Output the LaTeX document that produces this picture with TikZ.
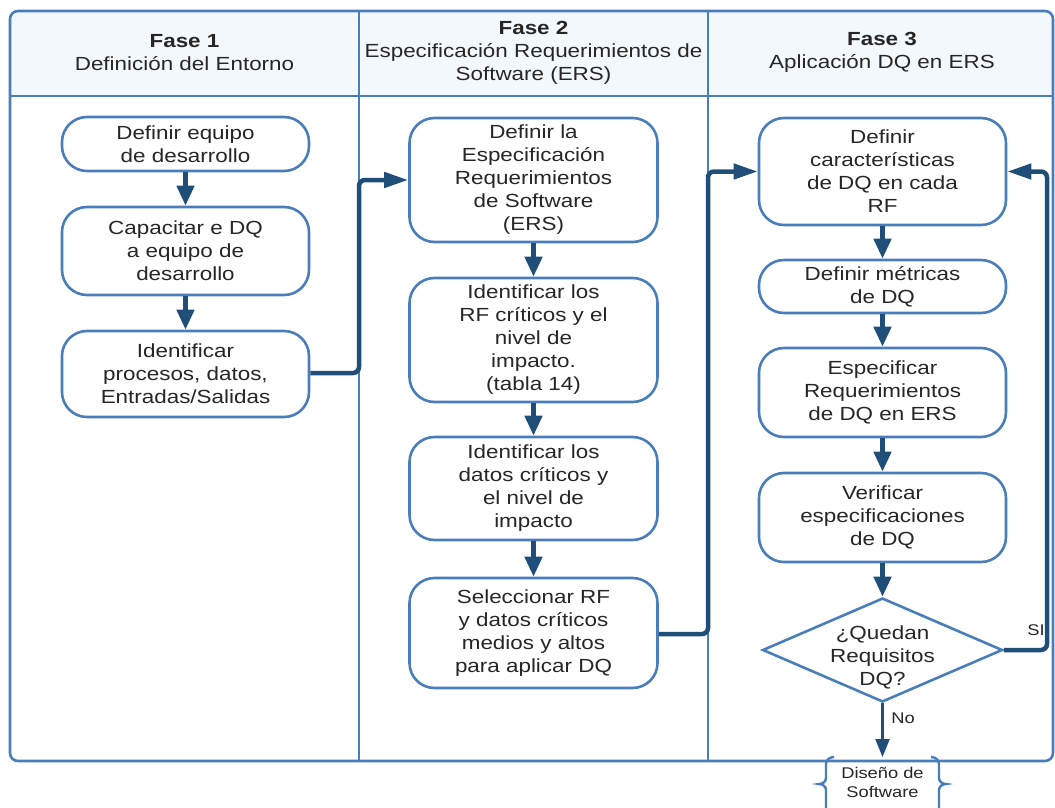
\documentclass[tikz,border=0pt]{standalone}
\usepackage{fontspec}
\setmainfont{Liberation Sans}[FakeStretch=1.18]
\usetikzlibrary{arrows.meta,shapes.geometric}

\definecolor{frameblue}{HTML}{4A7EBB}
\definecolor{navy}{HTML}{1F4E79}
\definecolor{headfill}{HTML}{F3F8FD}
\definecolor{ink}{HTML}{262626}

\tikzset{
  frame/.style={draw=frameblue, line width=2.6pt},
  stepbox/.style={draw=frameblue, line width=2.6pt, fill=white, rounded corners=25pt,
    minimum width=247pt, align=center, text=ink, inner sep=0pt,
    font=\fontsize{19}{23}\selectfont},
  headtxt/.style={align=center, text=ink, font=\fontsize{19}{23}\selectfont},
  txt/.style={align=center, text=ink, font=\fontsize{19}{23}\selectfont, inner sep=0pt},
  smalltxt/.style={align=center, text=ink, font=\fontsize{15.5}{19}\selectfont, inner sep=0pt},
  vconn/.style={draw=navy, line width=4.5pt, -{Triangle[length=20pt,width=17pt]}},
  thinconn/.style={draw=navy, line width=2.2pt, -{Triangle[length=18pt,width=14pt]}},
  hconn/.style={draw=navy, line width=4.5pt, rounded corners=6pt, -{Triangle[length=24pt,width=15pt]}},
}

\begin{document}
\begin{tikzpicture}[x=1pt,y=-1pt]
\useasboundingbox (0,0) rectangle (1055,808);
\clip (0,0) rectangle (1055,808);

% swimlane frame and header band
\begin{scope}
  \clip[rounded corners=8pt] (10,11) rectangle (1053,761);
  \fill[headfill] (10,11) rectangle (1053,96);
\end{scope}
\draw[frame, rounded corners=8pt] (10,11) rectangle (1053,761);
\draw[frame] (10,96) -- (1053,96);
\coordinate (d1t) at (359,11);
\coordinate (d1b) at (359,761);
\coordinate (d2t) at (708,11);
\coordinate (d2b) at (708,761);
\draw[frame] (d1t) -- (d1b);
\draw[frame] (d2t) -- (d2b);

% lane headers
\node[headtxt] (h1) at (184.5,52.5) {\textbf{Fase 1}\\Definición del Entorno};
\node[headtxt] (h2) at (533.5,53) {\textbf{Fase 2}\\Especificación Requerimientos de\\Software (ERS)};
\node[headtxt] (h3) at (882,52.5) {\textbf{Fase 3}\\Aplicación DQ en ERS};

% Fase 1
\node[stepbox, minimum height=54pt] (b11) at (185.5,144) {Definir equipo\\de desarrollo};
\node[stepbox, minimum height=88pt] (b12) at (185.5,251) {Capacitar e DQ\\a equipo de\\desarrollo};
\node[stepbox, minimum height=86pt] (b13) at (185.5,374) {Identificar\\procesos, datos,\\Entradas/Salidas};

% Fase 2
\node[stepbox, minimum width=248pt, minimum height=124pt] (b21) at (533.5,180) {Definir la\\Especificación\\Requerimientos\\de Software\\(ERS)};
\node[stepbox, minimum width=248pt, minimum height=124pt] (b22) at (533.5,340) {Identificar los\\RF críticos y el\\nivel de\\impacto.\\(tabla 14)};
\node[stepbox, minimum width=248pt, minimum height=103pt] (b23) at (533.5,488.5) {Identificar los\\datos críticos y\\el nivel de\\impacto};
\node[stepbox, minimum width=248pt, minimum height=110pt] (b24) at (533.5,633) {Seleccionar RF\\y datos críticos\\medios y altos\\para aplicar DQ};

% Fase 3
\node[stepbox, minimum height=107pt] (b31) at (882.5,171.5) {Definir\\características\\de DQ en cada\\RF};
\node[stepbox, minimum height=53pt] (b32) at (882.5,286.5) {Definir métricas\\de DQ};
\node[stepbox, minimum height=89pt] (b33) at (882.5,392.5) {Especificar\\Requerimientos\\de DQ en ERS};
\node[stepbox, minimum height=89pt] (b34) at (882.5,517.5) {Verificar\\especificaciones\\de DQ};
\node[diamond, draw=frameblue, line width=2.6pt, fill=white, inner sep=0pt,
      minimum width=240pt, minimum height=104pt] (dq) at (882.5,650) {};
\node[txt] (dqt) at (882.5,657) {¿Quedan\\Requisitos\\DQ?};

% off-page target
\node[smalltxt, minimum width=113pt, minimum height=50pt, outer sep=0pt] (ds) at (882.5,782) {Diseño de\\Software};
\draw[frame, line width=2.4pt]
  ([xshift=8pt]ds.north west) to[out=180,in=90] ([yshift=-7pt]ds.north west)
  -- ([yshift=-21pt]ds.north west) to[out=-90,in=0] ([xshift=-7pt,yshift=-27pt]ds.north west)
  to[out=0,in=90] ([yshift=-33pt]ds.north west) -- ([yshift=-70pt]ds.north west);
\draw[frame, line width=2.4pt]
  ([xshift=-8pt]ds.north east) to[out=0,in=90] ([yshift=-7pt]ds.north east)
  -- ([yshift=-21pt]ds.north east) to[out=-90,in=180] ([xshift=7pt,yshift=-27pt]ds.north east)
  to[out=180,in=90] ([yshift=-33pt]ds.north east) -- ([yshift=-70pt]ds.north east);

% flow inside the lanes
\draw[vconn] (b11) -- (b12);
\draw[vconn] (b12) -- (b13);
\draw[vconn] (b21) -- (b22);
\draw[vconn] (b22) -- (b23);
\draw[vconn] (b23) -- (b24);
\draw[vconn] (b31) -- (b32);
\draw[vconn] (b32) -- (b33);
\draw[vconn] (b33) -- (b34);
\draw[vconn] (b34) -- (dq);
\draw[thinconn] (dq.south) -- (ds.north);

% flow between the lanes
\draw[hconn] ([yshift=1pt]b13.east) -| (d1b |- b21.west) -- (b21.west);
\draw[hconn] ([yshift=-1pt]b24.east) -| (d2b |- b31.west) -- (b31.west);
\coordinate (loop) at (1047,650);
\draw[hconn] (dq.east) -- (loop) |- (b31.east);

% branch labels
\node[smalltxt] (si) at (1036,630) {SI};
\node[smalltxt] (no) at (903,718) {No};
\end{tikzpicture}
\end{document}
